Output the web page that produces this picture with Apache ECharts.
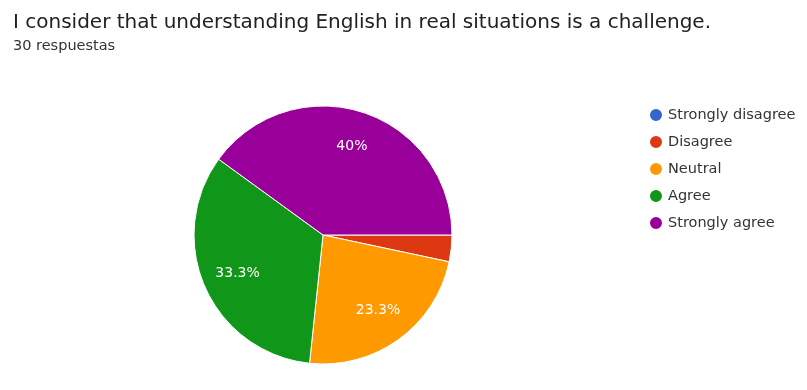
<!DOCTYPE html>
<html>
<head>
<meta charset="utf-8">
<script src="https://cdn.jsdelivr.net/npm/echarts@6/dist/echarts.min.js"></script>
<style>
  html, body { margin: 0; padding: 0; background: #fff; }
  #chart { width: 807px; height: 390px; }
</style>
</head>
<body>
<div id="chart"></div>
<script>
// Survey answers (count of responses per option)
const categories = ['Strongly disagree', 'Disagree', 'Neutral', 'Agree', 'Strongly agree'];
const responses = [0, 1, 7, 10, 12];
const colors = ['#3366cc', '#dc3912', '#ff9900', '#109618', '#990099'];

const total = responses.reduce((a, b) => a + b, 0);
const pieData = categories.map((name, i) => ({ name, value: responses[i] }));

function pctLabel(p) {
  if (p.percent < 5) return '';
  return String(Math.round(p.value / total * 1000) / 10) + '%';
}

const FONT = 'DejaVu Sans';

const chart = echarts.init(document.getElementById('chart'), null, { renderer: 'canvas' });
chart.setOption({
  animation: false,
  color: colors,
  title: {
    text: 'I consider that understanding English in real situations is a challenge.',
    subtext: total + ' respuestas',
    left: 8,
    top: 8,
    itemGap: 6,
    textStyle: { fontFamily: FONT, fontSize: 20, fontWeight: 'normal', color: '#202124' },
    subtextStyle: { fontFamily: FONT, fontSize: 14.5, color: '#333' }
  },
  legend: {
    orient: 'vertical',
    left: 643,
    top: 102,
    icon: 'circle',
    itemWidth: 14,
    itemHeight: 14,
    itemGap: 11,
    selectedMode: false,
    textStyle: { fontFamily: FONT, fontSize: 14.5, color: '#333' },
    data: categories
  },
  series: [
    {
      type: 'pie',
      center: [323, 235],
      radius: [0, 129],
      startAngle: 0,
      clockwise: true,
      avoidLabelOverlap: false,
      itemStyle: { borderColor: '#fff', borderWidth: 1 },
      label: { show: false },
      labelLine: { show: false },
      emphasis: { disabled: true },
      data: pieData
    },
    {
      // transparent ring used only to place the percentage labels further out
      type: 'pie',
      center: [323, 235],
      radius: [52, 129],
      startAngle: 0,
      clockwise: true,
      silent: true,
      avoidLabelOverlap: false,
      itemStyle: { color: 'rgba(0,0,0,0)' },
      label: {
        show: true,
        position: 'inside',
        formatter: pctLabel,
        fontFamily: FONT,
        fontSize: 14,
        color: '#fff'
      },
      labelLine: { show: false },
      emphasis: { disabled: true },
      data: pieData
    }
  ]
});
</script>
</body>
</html>
